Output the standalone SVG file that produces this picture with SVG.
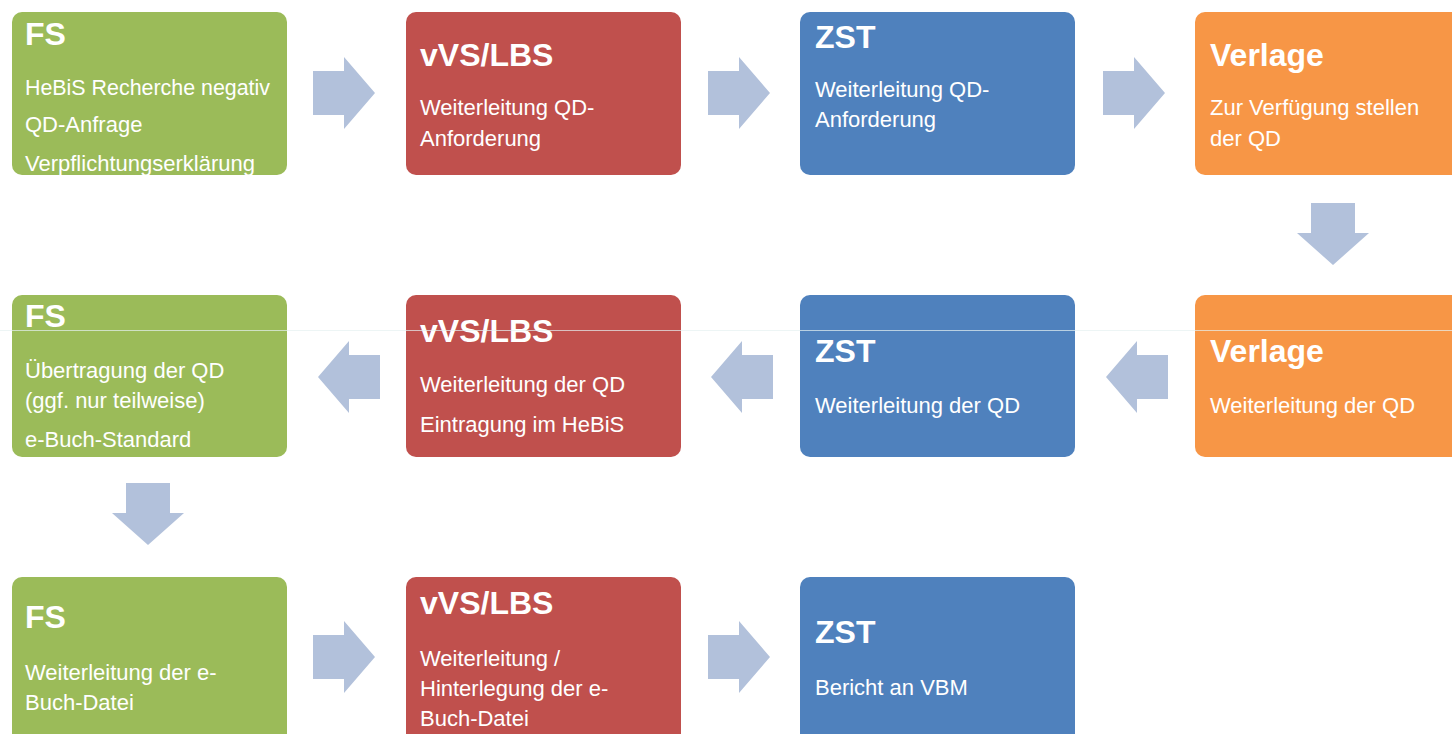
<svg xmlns="http://www.w3.org/2000/svg" width="1452" height="734" viewBox="0 0 1452 734">
<style>
.g{fill:#9BBB59}.r{fill:#C0504D}.b{fill:#4F81BD}.o{fill:#F79646}
.t{font-family:"Liberation Sans",Arial,sans-serif;font-weight:bold;font-size:32px;fill:#fff}
.s{font-family:"Liberation Sans",Arial,sans-serif;font-size:22px;fill:#fff}
.arr{fill:#B2C1DB}
</style>
<defs>
<clipPath id="c1"><rect x="12" y="12" width="275" height="163" rx="10"/></clipPath>
</defs>
<rect width="1452" height="734" fill="#fff"/>
<g id="connectors">
<path class="arr" d="M313,71H344V57L375,93L344,129V115H313Z"/>
<path class="arr" d="M708,71H739V57L770,93L739,129V115H708Z"/>
<path class="arr" d="M1103,71H1134V57L1165,93L1134,129V115H1103Z"/>
<path class="arr" d="M1311,203H1355V233H1369L1333,265L1297,233H1311Z"/>
<path class="arr" d="M1168,355H1137V341L1106,377L1137,413V399H1168Z"/>
<path class="arr" d="M773,355H742V341L711,377L742,413V399H773Z"/>
<path class="arr" d="M380,355H349V341L318,377L349,413V399H380Z"/>
<path class="arr" d="M126,483H170V513H184L148,545L112,513H126Z"/>
<path class="arr" d="M313,635H344V621L375,657L344,693V679H313Z"/>
<path class="arr" d="M708,635H739V621L770,657L739,693V679H708Z"/>
</g>
<g id="n1">
<rect class="g" x="12" y="12" width="275" height="163" rx="10"/>
<g clip-path="url(#c1)">
<text class="t" x="25" y="45">FS</text>
<text class="s" x="25" y="95" textLength="245" lengthAdjust="spacingAndGlyphs">HeBiS Recherche negativ</text>
<text class="s" x="25" y="132">QD-Anfrage</text>
<text class="s" x="25" y="171">Verpflichtungserklärung</text>
</g>
</g>
<g id="n2">
<rect class="r" x="406" y="12" width="275" height="163" rx="10"/>
<text class="t" x="420" y="66">vVS/LBS</text>
<text class="s" x="420" y="115">Weiterleitung QD-</text>
<text class="s" x="420" y="146">Anforderung</text>
</g>
<g id="n3">
<rect class="b" x="800" y="12" width="275" height="163" rx="10"/>
<text class="t" x="815" y="48">ZST</text>
<text class="s" x="815" y="97">Weiterleitung QD-</text>
<text class="s" x="815" y="127">Anforderung</text>
</g>
<g id="n4">
<rect class="o" x="1195" y="12" width="275" height="163" rx="10"/>
<text class="t" x="1210" y="66">Verlage</text>
<text class="s" x="1210" y="115">Zur Verfügung stellen</text>
<text class="s" x="1210" y="146">der QD</text>
</g>
<g id="n5">
<rect class="o" x="1195" y="295" width="275" height="162" rx="10"/>
<text class="t" x="1210" y="362">Verlage</text>
<text class="s" x="1210" y="413">Weiterleitung der QD</text>
</g>
<g id="n6">
<rect class="b" x="800" y="295" width="275" height="162" rx="10"/>
<text class="t" x="815" y="362">ZST</text>
<text class="s" x="815" y="413">Weiterleitung der QD</text>
</g>
<g id="n7">
<rect class="r" x="406" y="295" width="275" height="162" rx="10"/>
<text class="t" x="420" y="342">vVS/LBS</text>
<text class="s" x="420" y="392">Weiterleitung der QD</text>
<text class="s" x="420" y="432">Eintragung im HeBiS</text>
</g>
<g id="n8">
<rect class="g" x="12" y="295" width="275" height="162" rx="10"/>
<text class="t" x="25" y="327">FS</text>
<text class="s" x="25" y="378">Übertragung der QD</text>
<text class="s" x="25" y="408">(ggf. nur teilweise)</text>
<text class="s" x="25" y="447">e-Buch-Standard</text>
</g>
<g id="n9">
<rect class="g" x="12" y="577" width="275" height="170" rx="10"/>
<text class="t" x="25" y="628">FS</text>
<text class="s" x="25" y="680">Weiterleitung der e-</text>
<text class="s" x="25" y="710">Buch-Datei</text>
</g>
<g id="n10">
<rect class="r" x="406" y="577" width="275" height="170" rx="10"/>
<text class="t" x="420" y="614">vVS/LBS</text>
<text class="s" x="420" y="666">Weiterleitung /</text>
<text class="s" x="420" y="696">Hinterlegung der e-</text>
<text class="s" x="420" y="726">Buch-Datei</text>
</g>
<g id="n11">
<rect class="b" x="800" y="577" width="275" height="170" rx="10"/>
<text class="t" x="815" y="643">ZST</text>
<text class="s" x="815" y="695">Bericht an VBM</text>
</g>
<line x1="0" y1="330.5" x2="1452" y2="330.5" stroke="#e6f2f2" stroke-width="1" opacity="0.7"/>
</svg>
